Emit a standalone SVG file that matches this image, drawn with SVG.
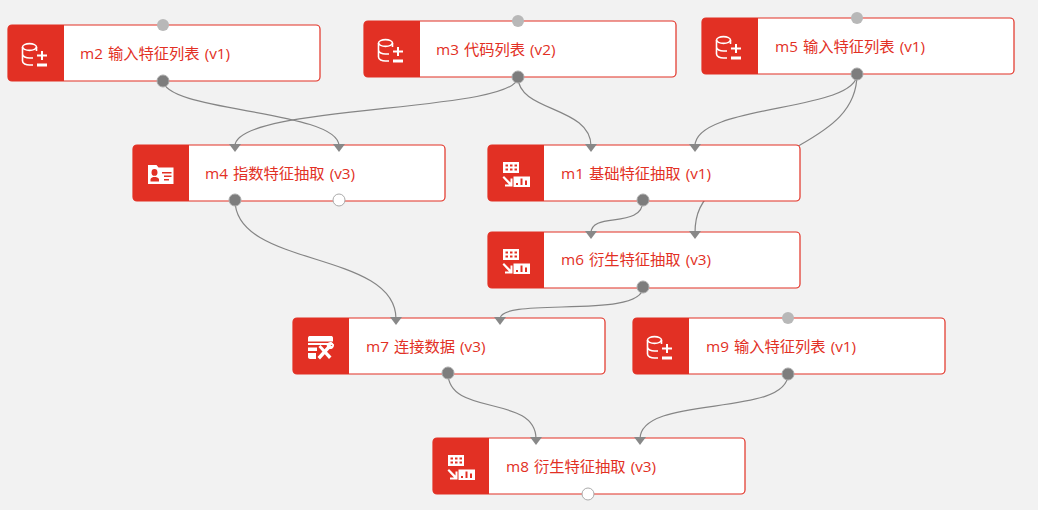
<svg xmlns="http://www.w3.org/2000/svg" width="1038" height="510" viewBox="0 0 1038 510">
<style>
.box{fill:#fff;stroke:#e23024;stroke-width:1.2}
.tab{fill:#e23024}
.lbl{font:15.3px "Open Sans","Noto Sans CJK SC",sans-serif;fill:#e23024;word-spacing:1px}
.wire{fill:none;stroke:#858585;stroke-width:1.2}
.in{fill:#888}
.pin{fill:#b8b8b8}
.pout{fill:#7d7d7d;stroke:#aaa;stroke-width:1}
.pfree{fill:#fff;stroke:#aaa;stroke-width:1}
.ic{fill:none;stroke:#fff;stroke-width:1.6}
.if{fill:#fff}
</style>
<defs>
<g id="base">
<rect class="box" x="0" y="0" width="312" height="56" rx="4"/>
<path class="tab" d="M4 0H56V56H4A4 4 0 0 1 0 52V4A4 4 0 0 1 4 0Z"/>
</g>
<g id="i-db">
<ellipse class="ic" cx="21.500" cy="22" rx="7" ry="3.400"/>
<path class="ic" d="M14.500 22V36C14.500 38.500 18 40 21.500 40H25M14.500 29C14.500 31.500 18 33 21.500 33H25M28.500 22V26"/>
</g>
<path id="plus" class="if" d="M29 29.500H39V31.500H29ZM33 26H35V35H33Z"/>
<path id="bar" class="if" d="M29 38.500H39V41.500H29Z"/>
<g id="i-ex">
<path class="if" fill-rule="evenodd" d="M15 17H31V28H15ZM17.500 19.500V21.500H20V19.500ZM22 19.500V21.500H24.500V19.500ZM26.500 19.500V21.500H29V19.500ZM17.500 23.500V25.500H20V23.500ZM22 23.500V25.500H24.500V23.500ZM26.500 23.500V25.500H29V23.500Z"/>
<path class="if" d="M14.500 32.500L16 31L22.500 37.500V33.500H24.500V41.500H17V39.500H21Z"/>
<path class="if" fill-rule="evenodd" d="M25.500 31.500H42V42H25.500ZM28 38V40H30V38ZM32.500 33.500V40H34.500V33.500ZM37 35.500V40H39V35.500Z"/>
</g>
<g id="i-id">
<path class="if" fill-rule="evenodd" d="M15 20H23.500L25.500 22.500H40.500V39H15ZM21.500 24A3 3.400 0 0 0 21.500 30.800A3 3.400 0 0 0 21.500 24ZM17.500 36.500H26V34C25 32.500 23.500 32 21.500 32C19.500 32 18.500 32.500 17.500 34ZM29 27V28.500H38.500V27ZM31 30.500V32H38.500V30.500ZM31 34V35.500H36V34Z"/>
</g>
<g id="i-tool">
<path class="if" d="M15 20C15 18.500 16 18 17 18H38C39 18 40 18.500 40 20V23.500H15ZM15 25H40V27H15ZM15 29.500H24V33H15ZM15 35H23V41H17C16 41 15 40 15 39Z"/>
<path class="if" d="M25.500 29L27.500 27L38.500 38.500L36 41Z"/>
<path class="if" d="M24.500 39L34 28.500C33 26 35 23.500 39.500 24L37 26.500L38.500 28L41 25.500C41.500 29 39.500 31.500 36.500 31L27 41.500Z"/>
</g>
<path id="arr" class="in" d="M-6 -1H6L0 7Z"/>
</defs>
<rect width="1038" height="510" fill="#f2f2f2"/>
<g id="connectors">
<path class="wire" d="M163 80C163 112 339 110 339 146"/>
<path class="wire" d="M518 77C518 113 235 104 235 146"/>
<path class="wire" d="M518 77C518 112 591 106 591 146"/>
<path class="wire" d="M857 74C857 112 695 104 695 146"/>
<path class="wire" d="M857 74C857 110 830 128 800 145L720 185C700 200 695 215 695 233"/>
<path class="wire" d="M643 200C643 230 591 211 591 233"/>
<path class="wire" d="M235 200C235 268 396 250 396 319"/>
<path class="wire" d="M643 287C643 320 500 296 500 319"/>
<path class="wire" d="M448 373C448 417 536 394 536 439"/>
<path class="wire" d="M788 374C788 418 640 394 640 439"/>
</g>
<g id="m2" transform="translate(8,25)">
<use href="#base"/><use href="#i-db"/><use href="#plus"/><use href="#bar"/>
<text class="lbl" x="72" y="34">m2 输入特征列表 (v1)</text>
<circle class="pin" cx="155" cy="0" r="6"/><circle class="pout" cx="155" cy="56" r="6"/>
</g>
<g id="m3" transform="translate(364,21)">
<use href="#base"/><use href="#i-db"/><use href="#plus"/><use href="#bar"/>
<text class="lbl" x="72" y="34">m3 代码列表 (v2)</text>
<circle class="pin" cx="154" cy="0" r="6"/><circle class="pout" cx="154" cy="56" r="6"/>
</g>
<g id="m5" transform="translate(702,18)">
<use href="#base"/><use href="#i-db"/><use href="#plus"/><use href="#bar"/>
<text class="lbl" x="73" y="34">m5 输入特征列表 (v1)</text>
<circle class="pin" cx="155" cy="0" r="6"/><circle class="pout" cx="155" cy="56" r="6"/>
</g>
<g id="m4" transform="translate(133,145)">
<use href="#base"/><use href="#i-id"/>
<text class="lbl" x="72" y="34">m4 指数特征抽取 (v3)</text>
<use href="#arr" x="102" y="0"/><use href="#arr" x="206" y="0"/>
<circle class="pout" cx="102" cy="55" r="6"/><circle class="pfree" cx="206" cy="55" r="6"/>
</g>
<g id="m1" transform="translate(488,145)">
<use href="#base"/><use href="#i-ex"/>
<text class="lbl" x="73" y="34">m1 基础特征抽取 (v1)</text>
<use href="#arr" x="103" y="0"/><use href="#arr" x="207" y="0"/>
<circle class="pout" cx="155" cy="55" r="6"/>
</g>
<g id="m6" transform="translate(488,232)">
<use href="#base"/><use href="#i-ex"/>
<text class="lbl" x="73" y="33">m6 衍生特征抽取 (v3)</text>
<use href="#arr" x="103" y="0"/><use href="#arr" x="207" y="0"/>
<circle class="pout" cx="155" cy="55" r="6"/>
</g>
<g id="m7" transform="translate(293,318)">
<use href="#base"/><use href="#i-tool"/>
<text class="lbl" x="73" y="34">m7 连接数据 (v3)</text>
<use href="#arr" x="103" y="0"/><use href="#arr" x="207" y="0"/>
<circle class="pout" cx="155" cy="55" r="6"/>
</g>
<g id="m9" transform="translate(633,318)">
<use href="#base"/><use href="#i-db"/><use href="#plus"/><use href="#bar"/>
<text class="lbl" x="73" y="34">m9 输入特征列表 (v1)</text>
<circle class="pin" cx="155" cy="0" r="6"/><circle class="pout" cx="155" cy="56" r="6"/>
</g>
<g id="m8" transform="translate(433,438)">
<use href="#base"/><use href="#i-ex"/>
<text class="lbl" x="73" y="34">m8 衍生特征抽取 (v3)</text>
<use href="#arr" x="103" y="0"/><use href="#arr" x="207" y="0"/>
<circle class="pfree" cx="155" cy="56" r="6"/>
</g>
</svg>
